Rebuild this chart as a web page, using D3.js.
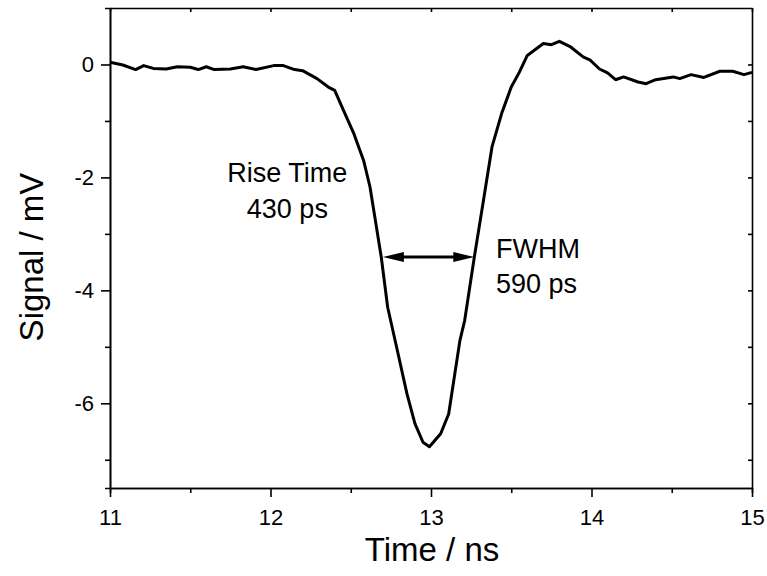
<!DOCTYPE html>
<html>
<head>
<meta charset="utf-8">
<title>Signal pulse</title>
<script src="https://cdn.jsdelivr.net/npm/d3@7"></script>
<style>
body { margin: 0; background: #fff; }
svg text { font-family: "Liberation Sans", Arial, sans-serif; fill: #000; }
.axis path, .axis line { stroke: #000; stroke-width: 1.6; }
.signal { fill: none; stroke: #000; stroke-width: 3; stroke-linejoin: round; }
</style>
</head>
<body>
<script>
// time (ns) and signal (mV)
var timeNs = [11.00, 11.08, 11.16, 11.21, 11.27, 11.35, 11.42, 11.50, 11.55, 11.60,
    11.65, 11.75, 11.83, 11.91, 12.02, 12.08, 12.15, 12.20, 12.29, 12.36,
    12.40, 12.45, 12.52, 12.58, 12.62, 12.65, 12.69, 12.73, 12.79, 12.85,
    12.90, 12.95, 12.99, 13.06, 13.11, 13.18, 13.21, 13.27, 13.33, 13.38,
    13.44, 13.50, 13.55, 13.60, 13.70, 13.75, 13.80, 13.87, 13.95, 13.99,
    14.05, 14.10, 14.15, 14.20, 14.29, 14.34, 14.40, 14.51, 14.55, 14.62,
    14.70, 14.80, 14.88, 14.95, 15.00];
var signalMv = [0.04, -0.01, -0.09, -0.02, -0.07, -0.08, -0.04, -0.05, -0.09, -0.04,
    -0.09, -0.08, -0.04, -0.09, -0.02, -0.02, -0.09, -0.11, -0.25, -0.40,
    -0.46, -0.78, -1.23, -1.70, -2.17, -2.70, -3.41, -4.30, -5.06, -5.83,
    -6.36, -6.69, -6.77, -6.54, -6.19, -4.89, -4.53, -3.41, -2.35, -1.46,
    -0.87, -0.40, -0.14, 0.16, 0.37, 0.35, 0.41, 0.31, 0.13, 0.08,
    -0.08, -0.15, -0.27, -0.22, -0.31, -0.34, -0.27, -0.22, -0.25, -0.18,
    -0.23, -0.12, -0.12, -0.18, -0.14];

var xTicks = [11, 12, 13, 14, 15];
var xMinor = [11.5, 12.5, 13.5, 14.5];
var yTicks = [0, -2, -4, -6];
var yMinor = [-1, -3, -5, -7];

// FWHM arrow (ns, mV)
var fwhmFrom = 12.70, fwhmTo = 13.27, fwhmLevel = -3.41;
var riseLabel = ["Rise Time", "430 ps"];
var fwhmLabel = ["FWHM", "590 ps"];

var width = 767, height = 576,
    margin = {top: 8, right: 15, bottom: 88, left: 110};

var x = d3.scaleLinear().domain([11, 15]).range([margin.left, width - margin.right]);
var y = d3.scaleLinear().domain([-7.5, 1]).range([height - margin.bottom, margin.top]);

var svg = d3.select("body").append("svg")
    .attr("width", width)
    .attr("height", height);

// minor ticks first (no labels)
svg.append("g").attr("class", "axis")
    .attr("transform", "translate(0," + y.range()[0] + ")")
    .call(d3.axisBottom(x).tickValues(xMinor).tickSize(5).tickFormat(""));
svg.append("g").attr("class", "axis")
    .attr("transform", "translate(" + x.range()[0] + ",0)")
    .call(d3.axisLeft(y).tickValues(yMinor).tickSize(5).tickFormat(""));

// top and right: inward ticks
svg.append("g").attr("class", "axis")
    .attr("transform", "translate(0," + y.range()[1] + ")")
    .call(d3.axisTop(x).tickValues(xTicks.concat(xMinor)).tickSizeInner(-4).tickSizeOuter(0).tickFormat(""));
svg.append("g").attr("class", "axis")
    .attr("transform", "translate(" + x.range()[1] + ",0)")
    .call(d3.axisRight(y).tickValues(yTicks.concat(yMinor)).tickSizeInner(-4).tickSizeOuter(0).tickFormat(""));

var xAxis = svg.append("g").attr("class", "axis")
    .attr("transform", "translate(0," + y.range()[0] + ")")
    .call(d3.axisBottom(x).tickValues(xTicks).tickSizeInner(9).tickSizeOuter(0).tickPadding(12)
        .tickFormat(d3.format("d")));
xAxis.selectAll("text").style("font-size", "22px");

var yAxis = svg.append("g").attr("class", "axis")
    .attr("transform", "translate(" + x.range()[0] + ",0)")
    .call(d3.axisLeft(y).tickValues(yTicks).tickSizeInner(9).tickSizeOuter(0).tickPadding(7)
        .tickFormat(function(d) { return d < 0 ? "-" + Math.abs(d) : d; }));
yAxis.selectAll("text").style("font-size", "22px");

// axis titles
svg.append("text")
    .attr("x", 432)
    .attr("y", 561)
    .attr("text-anchor", "middle")
    .style("font-size", "33px")
    .text("Time / ns");
svg.append("text")
    .attr("transform", "translate(43,257) rotate(-90)")
    .attr("text-anchor", "middle")
    .style("font-size", "33px")
    .text("Signal / mV");

// trace
var line = d3.line()
    .x(function(d, i) { return x(timeNs[i]); })
    .y(function(d) { return y(d); });
svg.append("path")
    .attr("class", "signal")
    .attr("d", line(signalMv));

// double arrow at half maximum
var ax0 = x(fwhmFrom), ax1 = x(fwhmTo), ay = y(fwhmLevel), head = 21, hw = 5;
svg.append("line")
    .attr("x1", ax0 + head - 2).attr("x2", ax1 - head + 2)
    .attr("y1", ay).attr("y2", ay)
    .attr("stroke", "#000").attr("stroke-width", 3);
svg.append("path")
    .attr("d", "M" + ax0 + "," + ay + "L" + (ax0 + head) + "," + (ay - hw) + "L" + (ax0 + head) + "," + (ay + hw) + "Z")
    .attr("fill", "#000");
svg.append("path")
    .attr("d", "M" + ax1 + "," + ay + "L" + (ax1 - head) + "," + (ay - hw) + "L" + (ax1 - head) + "," + (ay + hw) + "Z")
    .attr("fill", "#000");

// labels
svg.append("text")
    .attr("x", x(12.105)).attr("y", y(-2.09))
    .attr("text-anchor", "middle").style("font-size", "27px")
    .text(riseLabel[0]);
svg.append("text")
    .attr("x", x(12.105)).attr("y", y(-2.71))
    .attr("text-anchor", "middle").style("font-size", "27px")
    .text(riseLabel[1]);
svg.append("text")
    .attr("x", x(13.405)).attr("y", y(-3.42))
    .style("font-size", "27px")
    .text(fwhmLabel[0]);
svg.append("text")
    .attr("x", x(13.405)).attr("y", y(-4.04))
    .style("font-size", "27px")
    .text(fwhmLabel[1]);
</script>
</body>
</html>
